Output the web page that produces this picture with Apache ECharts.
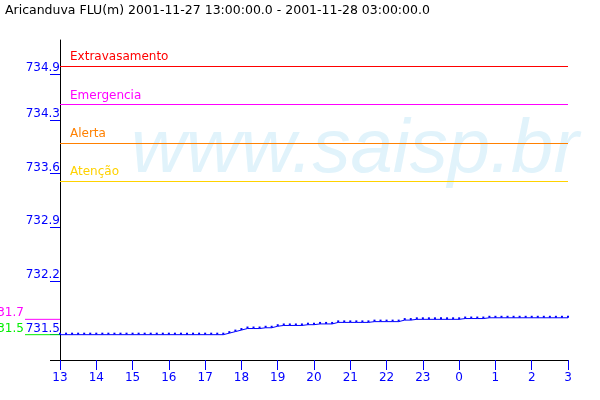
<!DOCTYPE html>
<html>
<head>
<meta charset="utf-8">
<script src="https://cdn.jsdelivr.net/npm/echarts@6/dist/echarts.min.js"></script>
<style>
html,body{margin:0;padding:0;background:#fff;}
#chart{width:600px;height:400px;}
</style>
</head>
<body>
<div id="chart"></div>
<script>
// ---- data ----
var titleText = 'Aricanduva FLU(m) 2001-11-27 13:00:00.0 - 2001-11-28 03:00:00.0';
var hourLabels = ['13','14','15','16','17','18','19','20','21','22','23','0','1','2','3'];
var yTickValues = [731.5, 732.2, 732.9, 733.6, 734.3, 734.9];
var stepsPerHour = 6; // 10-minute readings
var levels = [
  731.50,731.50,731.50,731.50,731.50,731.50,731.50,731.50,731.50,731.50,
  731.50,731.50,731.50,731.50,731.50,731.50,731.50,731.50,731.50,731.50,
  731.50,731.50,731.50,731.50,731.50,731.50,731.50,731.50,731.52,731.54,
  731.56,731.58,731.58,731.58,731.59,731.59,731.61,731.62,731.62,731.62,
  731.62,731.63,731.63,731.64,731.64,731.64,731.66,731.66,731.66,731.66,
  731.66,731.66,731.67,731.67,731.67,731.67,731.67,731.69,731.69,731.70,
  731.70,731.70,731.70,731.70,731.70,731.70,731.70,731.71,731.71,731.71,
  731.71,731.72,731.72,731.72,731.72,731.72,731.72,731.72,731.72,731.72,
  731.72,731.72,731.72,731.72,731.72
];
var thresholdNames = ['Extravasamento','Emergencia','Alerta','Atenção'];
var thresholdValues = [735.0, 734.5, 734.0, 733.5];
var thresholdColors = ['#ff0000','#ff00ff','#ff8000','#ffd200'];
var refNames = ['731.7','731.5'];
var refValues = [731.7, 731.5];
var refColors = ['#ff00ff','#00ee00'];
var yMin = 731.17, yMax = 735.34;
var watermark = 'www.saisp.br';

// ---- build ----
var FONT = 'DejaVu Sans';
var lineData = levels.map(function(v,i){ return [i/stepsPerHour, v]; });
var markData = thresholdValues.map(function(v,i){
  return {
    yAxis: v, name: thresholdNames[i],
    lineStyle: {color: thresholdColors[i], width: 1, type: 'solid'},
    label: {show: true, position: 'insideStartTop', formatter: thresholdNames[i],
            color: thresholdColors[i], fontFamily: FONT, fontSize: 12, distance: [10, 3]}
  };
});
var refSeries = refValues.map(function(v,i){
  return {
    type: 'line', xAxisIndex: 1, yAxisIndex: 1, silent: true,
    data: [
      {value: [0, v], label: {show: true, position: 'left', distance: 1, offset: [0, -6],
        formatter: refNames[i], color: refColors[i], fontFamily: FONT, fontSize: 12}},
      [1, v]
    ],
    symbol: 'circle', symbolSize: 0.1, showSymbol: true, clip: false,
    lineStyle: {color: refColors[i], width: 1},
    itemStyle: {color: refColors[i]}
  };
});

var chart = echarts.init(document.getElementById('chart'));
chart.setOption({
  animation: false,
  backgroundColor: '#ffffff',
  title: {text: titleText, left: 5, top: 4, padding: 0,
    textStyle: {fontFamily: FONT, fontSize: 12.5, fontWeight: 'normal', color: '#000'}},
  graphic: [
    {type: 'text', left: 131, top: 113, z: -10, silent: true,
      style: {text: watermark, fontFamily: 'Liberation Sans', fontStyle: 'italic',
              fontSize: 76, fill: '#e1f3fb'}},
    {type: 'line', shape: {x1: 50, y1: 360.5, x2: 60, y2: 360.5},
      style: {stroke: '#000', lineWidth: 1}, z: 10}
  ],
  grid: [
    {left: 60, right: 32, top: 40, bottom: 40},
    {left: 25, width: 35, top: 40, bottom: 40}
  ],
  xAxis: [
    {type: 'value', gridIndex: 0, min: 0, max: hourLabels.length - 1, interval: 1,
      axisLine: {lineStyle: {color: '#000'}},
      axisTick: {length: 10, lineStyle: {color: '#0000ff'}},
      axisLabel: {margin: 12, color: '#0000ff', fontFamily: FONT, fontSize: 12,
        formatter: function(v){ return hourLabels[Math.round(v)]; }},
      splitLine: {show: false}},
    {type: 'value', gridIndex: 1, min: 0, max: 1, show: false}
  ],
  yAxis: [
    {type: 'value', gridIndex: 0, min: yMin, max: yMax,
      axisLine: {show: true, lineStyle: {color: '#000'}},
      axisTick: {show: true, length: 10, customValues: yTickValues, lineStyle: {color: '#0000ff'}},
      axisLabel: {customValues: yTickValues, margin: 0, color: '#0000ff', fontFamily: FONT,
        fontSize: 12, verticalAlign: 'bottom',
        formatter: function(v){ return v.toFixed(1); }},
      splitLine: {show: false}},
    {type: 'value', gridIndex: 1, min: yMin, max: yMax, show: false}
  ],
  series: [
    {type: 'line', data: lineData, silent: true,
      symbol: 'rect', symbolSize: 2, symbolOffset: [0, -1], showAllSymbol: true,
      lineStyle: {color: '#0000ff', width: 1},
      itemStyle: {color: '#0000ff'},
      markLine: {silent: true, symbol: 'none', data: markData, animation: false}
    }
  ].concat(refSeries)
});
</script>
</body>
</html>
